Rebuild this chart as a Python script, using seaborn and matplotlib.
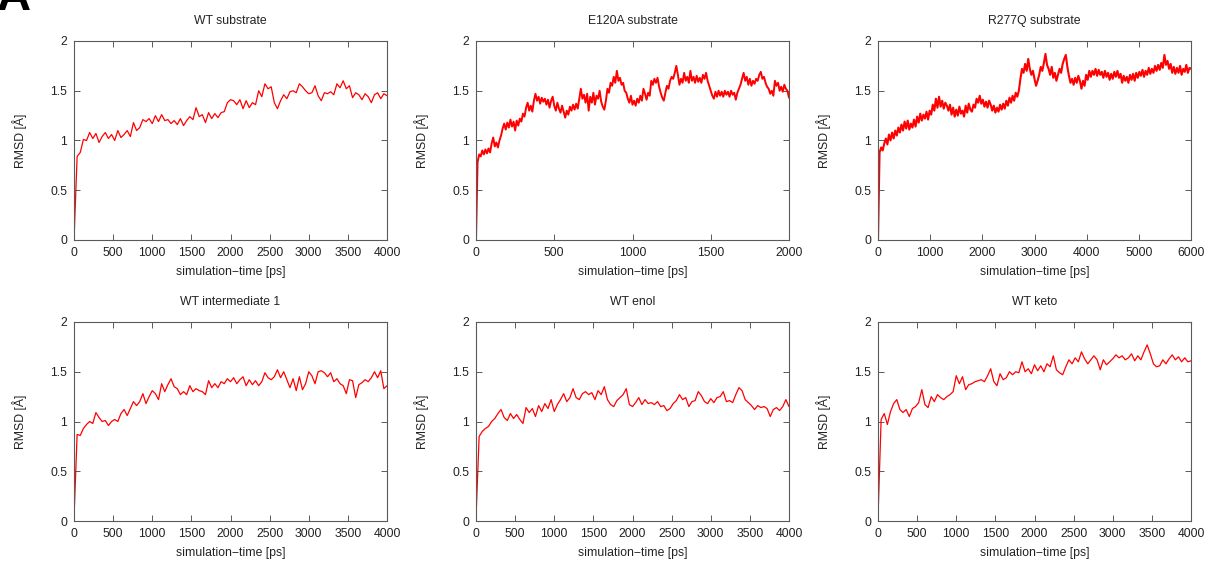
import numpy as np
import pandas as pd
import matplotlib
matplotlib.use("Agg")
import matplotlib.pyplot as plt
import seaborn as sns

sns.set_theme(style="white")
plt.rcParams['font.family'] = ['Liberation Sans', 'DejaVu Sans']

# ---------------- data (RMSD in Å) ----------------
titles = ["WT substrate", "E120A substrate", "R277Q substrate",
          "WT intermediate 1", "WT enol", "WT keto"]
t_max = [4000, 2000, 6000, 4000, 4000, 4000]
x_ticks = [list(range(0, 4001, 500)), list(range(0, 2001, 500)), list(range(0, 6001, 1000)),
           list(range(0, 4001, 500)), list(range(0, 4001, 500)), list(range(0, 4001, 500))]
y_ticks = [0, 0.5, 1, 1.5, 2]
y_ticklabels = ["0", "0.5", "1", "1.5", "2"]

wt_substrate = [
    0.00, 0.84, 0.88, 1.01, 1.00, 1.08, 1.02, 1.07, 0.98, 1.04,
    1.08, 1.02, 1.06, 1.00, 1.10, 1.03, 1.06, 1.10, 1.04, 1.18,
    1.10, 1.13, 1.21, 1.19, 1.22, 1.17, 1.25, 1.19, 1.26, 1.20,
    1.21, 1.17, 1.20, 1.16, 1.22, 1.15, 1.20, 1.24, 1.21, 1.33,
    1.24, 1.26, 1.18, 1.28, 1.22, 1.27, 1.23, 1.28, 1.29, 1.38,
    1.41, 1.40, 1.36, 1.41, 1.32, 1.40, 1.33, 1.38, 1.36, 1.50,
    1.44, 1.57, 1.52, 1.54, 1.38, 1.32, 1.40, 1.46, 1.42, 1.49,
    1.50, 1.48, 1.57, 1.54, 1.50, 1.47, 1.48, 1.55, 1.45, 1.40,
    1.48, 1.47, 1.49, 1.46, 1.57, 1.53, 1.60, 1.52, 1.55, 1.43,
    1.48, 1.46, 1.41, 1.47, 1.44, 1.38, 1.46, 1.48, 1.42, 1.47,
    1.45]

e120a_substrate = [
    0.00, 0.78, 0.86, 0.84, 0.90, 0.86, 0.91, 0.87, 0.92, 0.88,
    0.97, 1.03, 0.94, 0.98, 0.93, 1.00, 1.05, 1.12, 1.17, 1.11,
    1.18, 1.13, 1.21, 1.14, 1.19, 1.10, 1.20, 1.15, 1.22, 1.19,
    1.27, 1.24, 1.33, 1.38, 1.30, 1.35, 1.29, 1.40, 1.47, 1.40,
    1.44, 1.37, 1.43, 1.39, 1.42, 1.36, 1.41, 1.33, 1.40, 1.44,
    1.35, 1.30, 1.38, 1.32, 1.28, 1.35, 1.29, 1.23, 1.30, 1.26,
    1.34, 1.30, 1.36, 1.31, 1.37, 1.32, 1.42, 1.52, 1.42, 1.46,
    1.38, 1.47, 1.30, 1.44, 1.38, 1.48, 1.36, 1.45, 1.42, 1.50,
    1.39, 1.34, 1.31, 1.40, 1.52, 1.48, 1.58, 1.55, 1.64, 1.58,
    1.70, 1.60, 1.63, 1.56, 1.58, 1.50, 1.48, 1.42, 1.38, 1.45,
    1.36, 1.40, 1.35, 1.42, 1.38, 1.45, 1.40, 1.52, 1.47, 1.41,
    1.48, 1.45, 1.60, 1.56, 1.62, 1.58, 1.63, 1.54, 1.48, 1.43,
    1.40, 1.48, 1.55, 1.52, 1.60, 1.64, 1.62, 1.68, 1.75, 1.66,
    1.56, 1.62, 1.58, 1.68, 1.60, 1.64, 1.58, 1.70, 1.60, 1.64,
    1.58, 1.65, 1.59, 1.63, 1.58, 1.66, 1.62, 1.68, 1.60, 1.55,
    1.50, 1.45, 1.42, 1.49, 1.44, 1.50, 1.45, 1.49, 1.44, 1.50,
    1.46, 1.49, 1.44, 1.50, 1.46, 1.48, 1.41, 1.48, 1.52, 1.56,
    1.62, 1.68, 1.60, 1.64, 1.56, 1.62, 1.55, 1.60, 1.57, 1.62,
    1.60, 1.66, 1.69, 1.62, 1.64, 1.58, 1.54, 1.52, 1.47, 1.50,
    1.45, 1.60, 1.55, 1.58, 1.50, 1.54, 1.49, 1.56, 1.52, 1.50,
    1.43]

r277q_substrate = [
    0.00, 0.88, 0.93, 0.90, 0.97, 1.02, 0.96, 1.06, 1.00, 1.08,
    1.02, 1.10, 1.05, 1.13, 1.08, 1.16, 1.10, 1.19, 1.12, 1.20,
    1.11, 1.17, 1.13, 1.21, 1.14, 1.24, 1.18, 1.27, 1.20, 1.26,
    1.22, 1.29, 1.21, 1.30, 1.26, 1.36, 1.30, 1.42, 1.33, 1.44,
    1.34, 1.40, 1.32, 1.38, 1.35, 1.30, 1.36, 1.26, 1.33, 1.24,
    1.31, 1.25, 1.34, 1.27, 1.30, 1.24, 1.35, 1.28, 1.37, 1.31,
    1.29, 1.36, 1.33, 1.42, 1.38, 1.45, 1.37, 1.41, 1.34, 1.39,
    1.33, 1.40, 1.36, 1.30, 1.35, 1.28, 1.33, 1.29, 1.36, 1.31,
    1.37, 1.32, 1.40, 1.35, 1.43, 1.38, 1.45, 1.40, 1.48, 1.44,
    1.50, 1.62, 1.72, 1.68, 1.77, 1.70, 1.82, 1.72, 1.66, 1.70,
    1.62, 1.55, 1.60, 1.66, 1.74, 1.70, 1.78, 1.87, 1.76, 1.72,
    1.66, 1.74, 1.63, 1.68, 1.60, 1.66, 1.72, 1.68, 1.77, 1.82,
    1.86, 1.74, 1.65, 1.58, 1.62, 1.56, 1.63, 1.58, 1.65, 1.60,
    1.52, 1.60, 1.55, 1.66, 1.61, 1.70, 1.64, 1.70, 1.66, 1.72,
    1.65, 1.71, 1.66, 1.69, 1.63, 1.70, 1.64, 1.68, 1.61, 1.67,
    1.62, 1.69, 1.64, 1.70, 1.63, 1.67, 1.58, 1.65, 1.60, 1.64,
    1.58, 1.66, 1.61, 1.67, 1.60, 1.68, 1.63, 1.69, 1.65, 1.71,
    1.64, 1.70, 1.66, 1.73, 1.67, 1.72, 1.68, 1.75, 1.70, 1.76,
    1.71, 1.78, 1.73, 1.86, 1.76, 1.80, 1.72, 1.77, 1.68, 1.74,
    1.67, 1.73, 1.68, 1.75, 1.66, 1.72, 1.69, 1.76, 1.68, 1.73,
    1.72]

wt_intermediate1 = [
    0.03, 0.87, 0.86, 0.93, 0.97, 1.00, 0.98, 1.09, 1.04, 1.00,
    1.01, 0.96, 1.00, 1.02, 1.00, 1.08, 1.12, 1.06, 1.13, 1.20,
    1.16, 1.20, 1.28, 1.18, 1.25, 1.31, 1.28, 1.22, 1.38, 1.30,
    1.37, 1.43, 1.35, 1.33, 1.27, 1.30, 1.27, 1.36, 1.30, 1.33,
    1.31, 1.30, 1.27, 1.41, 1.34, 1.38, 1.34, 1.40, 1.38, 1.43,
    1.40, 1.44, 1.38, 1.42, 1.45, 1.36, 1.42, 1.37, 1.41, 1.36,
    1.40, 1.49, 1.44, 1.42, 1.45, 1.52, 1.44, 1.50, 1.42, 1.34,
    1.43, 1.31, 1.45, 1.32, 1.38, 1.50, 1.46, 1.38, 1.50, 1.51,
    1.49, 1.45, 1.49, 1.40, 1.43, 1.38, 1.36, 1.28, 1.42, 1.41,
    1.24, 1.37, 1.39, 1.42, 1.40, 1.44, 1.50, 1.44, 1.51, 1.33,
    1.36]

wt_enol = [
    0.03, 0.85, 0.90, 0.93, 0.95, 1.00, 1.03, 1.08, 1.12, 1.04,
    1.01, 1.08, 1.03, 1.07, 1.02, 0.98, 1.14, 1.09, 1.13, 1.05,
    1.16, 1.10, 1.18, 1.13, 1.22, 1.10, 1.17, 1.22, 1.28, 1.20,
    1.24, 1.33, 1.24, 1.22, 1.28, 1.30, 1.27, 1.29, 1.22, 1.31,
    1.27, 1.35, 1.22, 1.17, 1.15, 1.21, 1.24, 1.27, 1.33, 1.17,
    1.15, 1.19, 1.24, 1.17, 1.22, 1.18, 1.19, 1.17, 1.20, 1.15,
    1.16, 1.11, 1.13, 1.18, 1.21, 1.27, 1.22, 1.24, 1.15, 1.20,
    1.21, 1.30, 1.26, 1.20, 1.18, 1.23, 1.19, 1.24, 1.25, 1.30,
    1.20, 1.21, 1.19, 1.27, 1.34, 1.31, 1.22, 1.19, 1.16, 1.12,
    1.16, 1.14, 1.15, 1.13, 1.05, 1.12, 1.14, 1.11, 1.15, 1.22,
    1.15]

wt_keto = [
    0.03, 1.02, 1.08, 0.97, 1.10, 1.18, 1.22, 1.12, 1.09, 1.12,
    1.05, 1.13, 1.15, 1.19, 1.32, 1.17, 1.14, 1.25, 1.20, 1.27,
    1.24, 1.22, 1.25, 1.27, 1.30, 1.46, 1.38, 1.45, 1.32, 1.37,
    1.38, 1.40, 1.41, 1.42, 1.40, 1.46, 1.53, 1.40, 1.36, 1.48,
    1.42, 1.44, 1.50, 1.47, 1.50, 1.49, 1.60, 1.50, 1.53, 1.48,
    1.57, 1.51, 1.56, 1.50, 1.58, 1.55, 1.66, 1.52, 1.49, 1.47,
    1.55, 1.62, 1.58, 1.64, 1.60, 1.70, 1.63, 1.58, 1.62, 1.66,
    1.62, 1.52, 1.62, 1.57, 1.60, 1.63, 1.67, 1.64, 1.66, 1.62,
    1.64, 1.68, 1.61, 1.66, 1.62, 1.70, 1.77, 1.68, 1.58, 1.55,
    1.56, 1.62, 1.58, 1.63, 1.67, 1.62, 1.65, 1.60, 1.64, 1.60,
    1.61]

series = [wt_substrate, e120a_substrate, r277q_substrate,
          wt_intermediate1, wt_enol, wt_keto]
line_widths = [0.9, 1.4, 1.5, 0.9, 0.9, 0.9]

# ---------------- figure ----------------
W, H = 1210, 563
fig = plt.figure(figsize=(W / 100, H / 100), dpi=100)

col_left = [74, 476, 878]
ax_w = 313
row_top = [41, 322]
ax_h = 199

FS = 8.8
frame_col = "#5a5a5a"
text_col = "#222222"

for i, (title, vals) in enumerate(zip(titles, series)):
    r, c = divmod(i, 3)
    left = col_left[c] / W
    bottom = 1 - (row_top[r] + ax_h) / H
    ax = fig.add_axes([left, bottom, ax_w / W, ax_h / H])
    t = np.linspace(0, t_max[i], len(vals))
    df = pd.DataFrame({"time": t, "rmsd": vals})
    sns.lineplot(data=df, x="time", y="rmsd", ax=ax, color="#ff0000",
                 linewidth=line_widths[i], estimator=None, sort=False)
    ax.set_xlim(0, t_max[i])
    ax.set_ylim(0, 2)
    ax.set_xticks(x_ticks[i])
    ax.set_xticklabels([str(v) for v in x_ticks[i]], fontsize=FS, color=text_col)
    ax.set_yticks(y_ticks)
    ax.set_yticklabels(y_ticklabels, fontsize=FS, color=text_col)
    ax.tick_params(direction="in", length=4, width=0.7, color=frame_col,
                   top=True, right=True, bottom=True, left=True, pad=5)
    for s in ax.spines.values():
        s.set_color(frame_col)
        s.set_linewidth(0.8)
        s.set_visible(True)
    ax.set_xlabel("simulation\u2212time [ps]", fontsize=FS, color=text_col)
    ax.set_ylabel("RMSD [\u00c5]", fontsize=FS, color=text_col)
    ax.xaxis.set_label_coords(0.5, -26 / ax_h)
    ax.yaxis.set_label_coords(-47 / ax_w, 0.5)
    ax.text(0.5, 1 + 20 / ax_h, title, transform=ax.transAxes,
            ha="center", va="center", fontsize=FS, color=text_col)
    ax.grid(False)

fig.text(-0.003, 1 - 10 / H, "A", fontsize=34, fontweight="bold",
         ha="left", va="baseline", color="black")

fig.savefig("out.png", dpi=100, facecolor="white")
